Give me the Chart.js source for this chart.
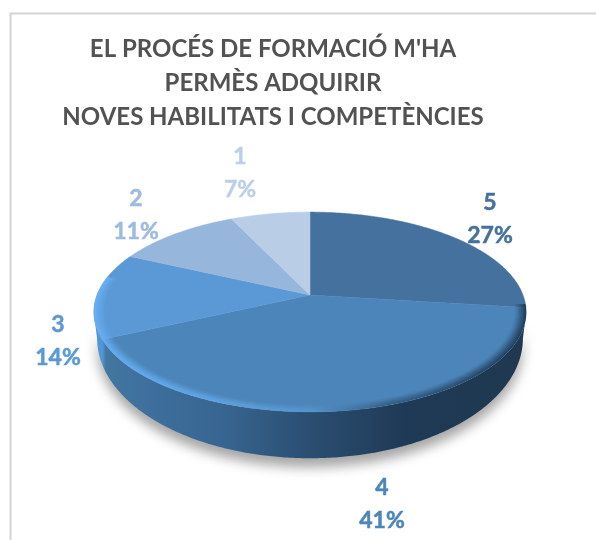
<!DOCTYPE html>
<html>
<head>
<meta charset="utf-8">
<style>html,body{margin:0;padding:0;background:#fff}canvas{display:block}</style>
<script src="https://cdn.jsdelivr.net/npm/chart.js@4"></script>
</head>
<body>
<canvas id="c" width="596" height="540"></canvas>
<script>
const categories = ['5', '4', '3', '2', '1'];
const shares = [27, 41, 14, 11, 7];
const sliceColors = ['#44719d', '#4c85b9', '#5a99d6', '#97b6dc', '#b9cde6'];
const labelColors = ['#44719d', '#4c85b9', '#5a99d6', '#9dbbe0', '#bccfe8'];
const titleLines = ["EL PROCÉS DE FORMACIÓ M'HA", 'PERMÈS ADQUIRIR', 'NOVES HABILITATS I COMPETÈNCIES'];

const view = {cx: 310, cy: 295, a: 213, b: 97, k: 0.17, rimDrop: 23, rimScaleX: 0.985, rimScaleY: 1.2};
const labelAnchors = [[490, 203], [382, 488], [58, 325], [136, 199], [240, 157]];

function project(th, r, lower) {
  const x = r * Math.sin(th), y = -r * Math.cos(th), w = 1 - view.k * y;
  const sx = lower ? view.rimScaleX : 1, sy = lower ? view.rimScaleY : 1, d = lower ? view.rimDrop : 0;
  return [view.cx + sx * view.a * x / w, view.cy + sy * view.b * y / w + d];
}
function trace(ctx, from, to, r, lower, first) {
  const n = Math.max(2, Math.ceil(Math.abs(to - from) / 0.01));
  for (let i = 0; i <= n; i++) {
    const p = project(from + (to - from) * i / n, r, lower);
    if (i === 0 && first) ctx.moveTo(p[0], p[1]); else ctx.lineTo(p[0], p[1]);
  }
}
const tiltedPie = {
  id: 'tiltedPie',
  beforeDraw(chart) {
    const ctx = chart.ctx;
    ctx.save();
    ctx.fillStyle = '#fff';
    ctx.fillRect(0, 0, 596, 540);
    ctx.strokeStyle = '#d4d4d4';
    ctx.lineWidth = 2;
    ctx.beginPath();
    ctx.moveTo(10.5, 545);
    ctx.lineTo(10.5, 13.5);
    ctx.lineTo(600, 13.5);
    ctx.stroke();
    ctx.restore();
  },
  beforeDatasetsDraw(chart) {
    const ctx = chart.ctx;
    const arcs = chart.getDatasetMeta(0).data;
    const L = Math.PI * 100 / 180, R = Math.PI * 260 / 180;
    ctx.save();
    // rim with ground shadow
    const g = ctx.createLinearGradient(93, 0, 525, 0);
    g.addColorStop(0, '#5296d6');
    g.addColorStop(0.022, '#5296d6');
    g.addColorStop(0.03, '#42779f');
    g.addColorStop(0.1, '#3f719f');
    g.addColorStop(0.3, '#386590');
    g.addColorStop(0.5, '#2b4e72');
    g.addColorStop(0.72, '#1f3a56');
    g.addColorStop(1, '#203850');
    ctx.save();
    ctx.shadowColor = 'rgba(0,0,0,0.35)';
    ctx.shadowBlur = 12;
    ctx.shadowOffsetY = 9;
    ctx.fillStyle = g;
    ctx.beginPath();
    trace(ctx, L, R, 1, false, true);
    trace(ctx, R, L, 1, true, false);
    ctx.closePath();
    ctx.fill();
    ctx.restore();
    // top face, one wedge per arc computed by the library
    arcs.forEach((arc, i) => {
      const p = arc.getProps(['startAngle', 'endAngle']);
      const s = p.startAngle + Math.PI / 2, e = p.endAngle + Math.PI / 2;
      ctx.beginPath();
      ctx.moveTo(view.cx, view.cy);
      trace(ctx, s, e, 1, false, false);
      ctx.closePath();
      ctx.fillStyle = sliceColors[i];
      ctx.strokeStyle = sliceColors[i];
      ctx.lineWidth = 0.5;
      ctx.fill();
      ctx.stroke();
    });
    // soft bevel along the front edge
    ctx.beginPath();
    trace(ctx, 0, Math.PI * 2, 1, false, true);
    ctx.closePath();
    ctx.clip();
    const steps = 10;
    for (let i = 0; i < steps; i++) {
      const al = Math.pow(1 - i / steps, 1.4);
      const b = ctx.createLinearGradient(93, 0, 525, 0);
      b.addColorStop(0, `rgba(104,176,245,${al})`);
      b.addColorStop(0.25, `rgba(96,165,230,${al})`);
      b.addColorStop(0.5, `rgba(88,150,208,${al * 0.8})`);
      b.addColorStop(0.68, `rgba(50,90,130,${al * 0.75})`);
      b.addColorStop(1, `rgba(30,56,84,${al})`);
      ctx.strokeStyle = b;
      ctx.lineWidth = 1.6;
      ctx.beginPath();
      trace(ctx, Math.PI * 0.53, Math.PI * 1.56, 1 - i * 0.0055, false, true);
      ctx.stroke();
    }
    ctx.restore();
    return false;
  },
  afterDraw(chart) {
    const ctx = chart.ctx;
    const total = shares.reduce((p, v) => p + v, 0);
    ctx.save();
    ctx.font = 'bold 23px Lato';
    ctx.textAlign = 'center';
    ctx.textBaseline = 'middle';
    ctx.lineWidth = 0.5;
    categories.forEach((c, i) => {
      const [x, y] = labelAnchors[i];
      const pct = Math.round(shares[i] / total * 100) + '%';
      ctx.fillStyle = labelColors[i];
      ctx.strokeStyle = labelColors[i];
      ctx.fillText(c, x, y);
      ctx.strokeText(c, x, y);
      ctx.fillText(pct, x, y + 32.5);
      ctx.strokeText(pct, x, y + 32.5);
    });
    ctx.restore();
  }
};
new Chart(document.getElementById('c'), {
  type: 'pie',
  data: {labels: categories, datasets: [{data: shares, backgroundColor: sliceColors, borderWidth: 0}]},
  options: {
    responsive: false,
    animation: false,
    layout: {padding: {left: 10, right: 60}},
    plugins: {
      legend: {display: false},
      tooltip: {enabled: false},
      title: {
        display: true,
        text: titleLines,
        color: '#525252',
        font: {family: 'Lato', size: 24, weight: 'bold', lineHeight: '34px'},
        padding: {top: 32, bottom: 0}
      }
    }
  },
  plugins: [tiltedPie]
});
</script>
</body>
</html>
